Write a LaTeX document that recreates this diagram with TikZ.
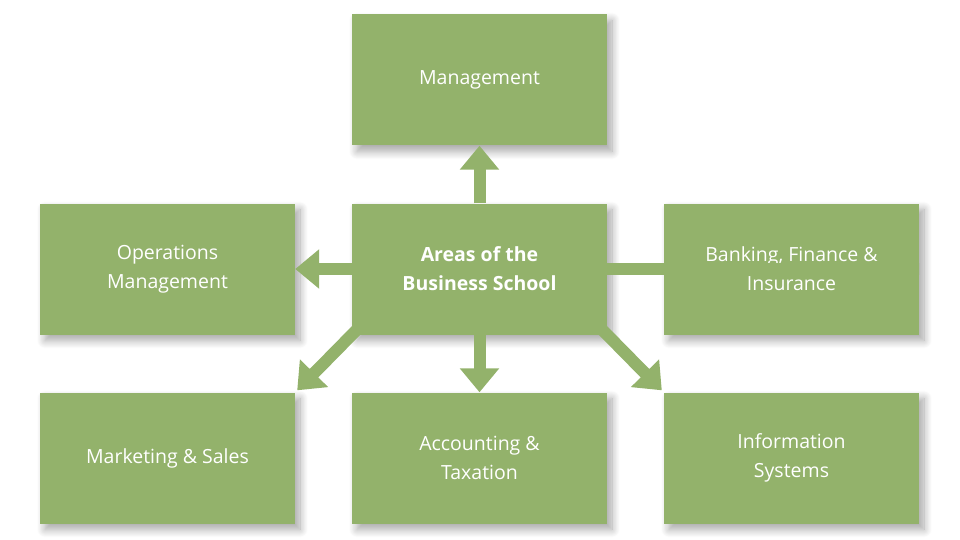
\documentclass[tikz,border=0pt]{standalone}
\usepackage{fontspec}
\setmainfont{Open Sans}
\usetikzlibrary{arrows.meta,shadows.blur}
\definecolor{gr}{HTML}{93B26B}
\begin{document}
\begin{tikzpicture}[x=1pt,y=-1pt,
  box/.style={fill=gr,minimum width=255pt,minimum height=131pt,text=white,align=center,
    font=\fontsize{19.5}{29}\selectfont,inner sep=0pt,
    blur shadow={shadow xshift=5pt,shadow yshift=-6pt,shadow blur steps=10,shadow opacity=35,shadow blur radius=8pt}},
  arr/.style={draw=gr,line width=12pt,-{Triangle[width=38pt,length=24pt]}}]
\useasboundingbox (0,0) rectangle (960,540);
\node[box] (m) at (479.5,80) {Management};
\node[box,font=\fontsize{19.5}{29}\selectfont\bfseries] (c) at (479.5,269) {Areas of the\\Business School};
\node[box] (o) at (167.5,269) {Operations\\Management};
\node[box] (b) at (791.5,269) {Banking, Finance \&\\Insurance};
\node[box] (s) at (167.5,458) {Marketing \& Sales};
\node[box] (a) at (479.5,458) {Accounting \&\\Taxation};
\node[box] (i) at (791.5,458) {Information\\Systems};
\draw[arr] (c.north) -- (m.south);
\draw[arr] (c.south) -- (a.north);
\draw[arr] (c.west) -- (o.east);
\draw[arr] (c.east) -- (b.east |- b.west) -- (b.west);
\draw[arr,shorten <=-2pt] ([shift={(6,-6)}]c.south west) -- ([shift={(2,-2)}]s.north east);
\draw[arr,shorten <=-2pt] ([shift={(-6,-6)}]c.south east) -- ([shift={(-2,-2)}]i.north west);
\end{tikzpicture}
\end{document}
